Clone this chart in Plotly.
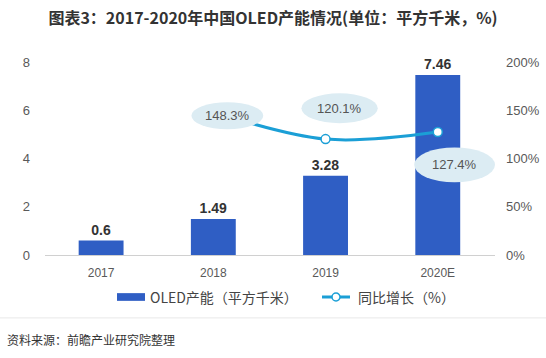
import plotly.graph_objects as go

categories = ["2017", "2018", "2019", "2020E"]
capacity = [0.6, 1.49, 3.28, 7.46]
growth_cats = ["2018", "2019", "2020E"]
growth = [148.3, 120.1, 127.4]
growth_labels = ["148.3%", "120.1%", "127.4%"]
left_ticks = [0, 2, 4, 6, 8]
right_ticks = [0, 50, 100, 150, 200]
right_tick_text = ["0%", "50%", "100%", "150%", "200%"]

BAR = "#2f5ec4"
LINE = "#1b9fd6"
FONT = "Liberation Sans, Noto Sans CJK SC, sans-serif"
CJK = "Noto Sans CJK SC, sans-serif"

fig = go.Figure()
fig.add_trace(go.Bar(
    x=categories, y=capacity, name="OLED产能（平方千米）",
    marker=dict(color=BAR, line=dict(width=0)),
    text=[str(v) for v in capacity], textposition="outside",
    textfont=dict(family=FONT, size=14, color="#333333"),
    texttemplate="<b>%{text}</b>", cliponaxis=False,
))
fig.add_trace(go.Scatter(
    x=growth_cats, y=growth, name="同比增长（%）", yaxis="y2",
    mode="lines+markers", line=dict(color=LINE, width=3, shape="spline"),
    marker=dict(size=9, color="white", line=dict(color=LINE, width=1.5)),
))

# bubble labels (offsets in category / percent units from each data point)
offsets = [(0.125, -4, 0.32, 14), (0.125, 32, 0.34, 15.5), (0.15, -34, 0.36, 18)]
for c, v, t, (dx, dy, hw, hh) in zip(growth_cats, growth, growth_labels, offsets):
    i = categories.index(c)
    cx, cy = i + dx, v + dy
    fig.add_shape(type="circle", xref="x", yref="y2",
                  x0=cx - hw, x1=cx + hw, y0=cy - hh, y1=cy + hh,
                  fillcolor="#dcecf3", line=dict(width=0), layer="above")
    fig.add_annotation(x=cx, y=cy, xref="x", yref="y2", text=t, showarrow=False,
                       font=dict(family=FONT, size=13, color="#555555"))

fig.update_layout(
    width=546, height=358,
    margin=dict(l=45, r=51, t=62, b=103, autoexpand=False),
    paper_bgcolor="white", plot_bgcolor="white",
    title=dict(text="<b>图表3：2017-2020年中国OLED产能情况(单位：平方千米，%)</b>",
               x=0.5, xanchor="center", y=0.95, yanchor="middle",
               font=dict(family=CJK, size=16, color="#333333")),
    bargap=0.6,
    showlegend=False,
    xaxis=dict(showgrid=False, showline=True, linecolor="#d0d0d0", linewidth=1,
               ticks="", ticklabelstandoff=7,
               tickfont=dict(family=FONT, size=12, color="#595959")),
    yaxis=dict(range=[0, 8], tickvals=left_ticks, showgrid=False, zeroline=False,
               showline=False, ticks="", ticklabelstandoff=14,
               tickfont=dict(family=FONT, size=13, color="#595959")),
    yaxis2=dict(range=[0, 200], tickvals=right_ticks, ticktext=right_tick_text,
                overlaying="y", side="right", showgrid=False, zeroline=False,
                showline=False, ticks="", ticklabelstandoff=10,
                tickfont=dict(family=FONT, size=13, color="#595959")),
)

# custom legend
ly = -0.2176
fig.add_shape(type="rect", xref="paper", yref="paper", x0=0.16, x1=0.2222,
              y0=ly - 0.02, y1=ly + 0.02, fillcolor=BAR, line=dict(width=0))
fig.add_annotation(xref="paper", yref="paper", x=0.2289, y=ly, xanchor="left",
                   yanchor="middle", showarrow=False, text="OLED产能（平方千米）",
                   font=dict(family=CJK, size=14, color="#444444"))
fig.add_shape(type="line", xref="paper", yref="paper", x0=0.6156, x1=0.6778,
              y0=ly, y1=ly, line=dict(color=LINE, width=3))
fig.add_shape(type="circle", xref="paper", yref="paper", x0=0.6467 - 0.0089,
              x1=0.6467 + 0.0089, y0=ly - 0.0207, y1=ly + 0.0207,
              fillcolor="white", line=dict(color=LINE, width=1.5))
fig.add_annotation(xref="paper", yref="paper", x=0.6911, y=ly, xanchor="left",
                   yanchor="middle", showarrow=False, text="同比增长（%）",
                   font=dict(family=CJK, size=14, color="#444444"))

fig.add_shape(type="line", xref="paper", yref="paper", x0=-0.1, x1=1.12,
              y0=-0.326, y1=-0.326, line=dict(color="#e8e8e8", width=1))
fig.add_annotation(xref="paper", yref="paper", x=-0.0889, y=-0.4404, xanchor="left",
                   yanchor="middle", showarrow=False, text="资料来源：前瞻产业研究院整理",
                   font=dict(family=CJK, size=12, color="#333333"))

fig.write_html("out.html", config={"displayModeBar": False},
               post_script="document.body.style.margin='0';")
